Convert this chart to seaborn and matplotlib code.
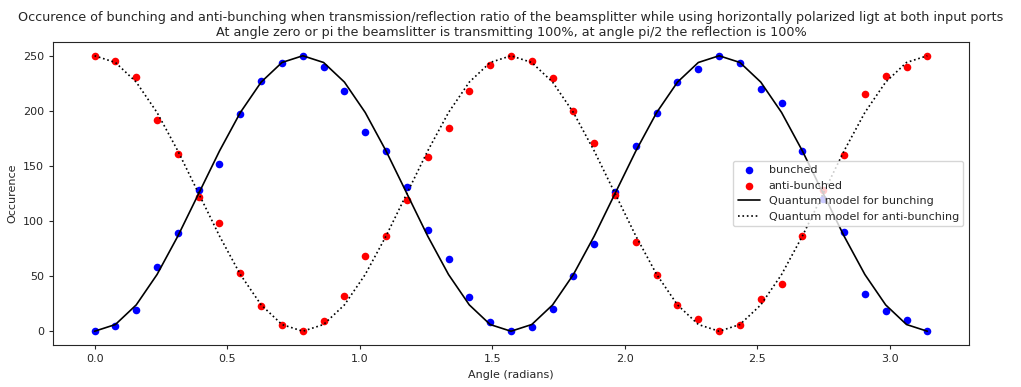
import matplotlib
matplotlib.use("Agg")
import matplotlib.pyplot as plt
import seaborn as sns
import pandas as pd

angles = [0.0, 0.0785, 0.1571, 0.2356, 0.3142, 0.3927, 0.4712, 0.5498, 0.6283, 0.7069,
          0.7854, 0.8639, 0.9425, 1.0210, 1.0996, 1.1781, 1.2566, 1.3352, 1.4137, 1.4923,
          1.5708, 1.6493, 1.7279, 1.8064, 1.8850, 1.9635, 2.0420, 2.1206, 2.1991, 2.2777,
          2.3562, 2.4347, 2.5133, 2.5918, 2.6704, 2.7489, 2.8274, 2.9060, 2.9845, 3.0631,
          3.1416]

bunched = [0, 5, 19, 58, 89, 128, 152, 197, 227, 243,
           250, 240, 218, 181, 164, 131, 92, 66, 31, 8,
           0, 4, 20, 50, 79, 126, 168, 198, 226, 238,
           250, 243, 220, 207, 164, 120, 90, 34, 18, 10,
           0]

anti_bunched = [250, 245, 231, 192, 161, 122, 98, 53, 23, 6,
                0, 9, 32, 68, 86, 119, 158, 184, 218, 242,
                250, 245, 230, 200, 171, 124, 81, 51, 24, 11,
                0, 6, 29, 43, 86, 128, 160, 215, 232, 240,
                250]

model_bunching = [0, 6.1, 23.9, 51.5, 86.4, 125, 163.6, 198.5, 226.1, 243.9,
                  250, 243.9, 226.1, 198.5, 163.6, 125, 86.4, 51.5, 23.9, 6.1,
                  0, 6.1, 23.9, 51.5, 86.4, 125, 163.6, 198.5, 226.1, 243.9,
                  250, 243.9, 226.1, 198.5, 163.6, 125, 86.4, 51.5, 23.9, 6.1,
                  0]

model_anti = [250, 243.9, 226.1, 198.5, 163.6, 125, 86.4, 51.5, 23.9, 6.1,
              0, 6.1, 23.9, 51.5, 86.4, 125, 163.6, 198.5, 226.1, 243.9,
              250, 243.9, 226.1, 198.5, 163.6, 125, 86.4, 51.5, 23.9, 6.1,
              0, 6.1, 23.9, 51.5, 86.4, 125, 163.6, 198.5, 226.1, 243.9,
              250]

title = ("Occurence of bunching and anti-bunching when transmission/reflection ratio of the beamsplitter "
         "while using horizontally polarized ligt at both input ports\n"
         "At angle zero or pi the beamslitter is transmitting 100%, at angle pi/2 the reflection is 100%")

sns.set_style("ticks")
plt.rcParams['font.family'] = ['DejaVu Sans']

df = pd.DataFrame({"angle": angles, "bunched": bunched, "anti": anti_bunched,
                   "mb": model_bunching, "ma": model_anti})

fig = plt.figure(figsize=(10.21, 3.87), dpi=100)
ax = fig.add_axes([0.0519, 0.1085, 0.8972, 0.783])

sns.scatterplot(data=df, x="angle", y="bunched", color="blue", s=30, linewidth=0,
                label="bunched", ax=ax)
sns.scatterplot(data=df, x="angle", y="anti", color="red", s=30, linewidth=0,
                label="anti-bunched", ax=ax)
sns.lineplot(data=df, x="angle", y="mb", color="black", linewidth=1.2,
             label="Quantum model for bunching", ax=ax)
sns.lineplot(data=df, x="angle", y="ma", color="black", linewidth=1.2, linestyle=":",
             label="Quantum model for anti-bunching", ax=ax)

ax.set_xlim(-0.157, 3.299)
ax.set_ylim(-12.5, 262.5)
ax.set_xticks([0.0, 0.5, 1.0, 1.5, 2.0, 2.5, 3.0])
ax.set_yticks([0, 50, 100, 150, 200, 250])
ax.tick_params(labelsize=8, length=3)
ax.set_xlabel("Angle (radians)", fontsize=8)
ax.set_ylabel("Occurence", fontsize=8)
ax.set_title(title, fontsize=9.2, pad=4, linespacing=1.25)
for s in ax.spines.values():
    s.set_visible(True)
    s.set_linewidth(0.8)
ax.legend(loc="center right", fontsize=8, framealpha=0.8)

fig.savefig("out.png", dpi=100)
